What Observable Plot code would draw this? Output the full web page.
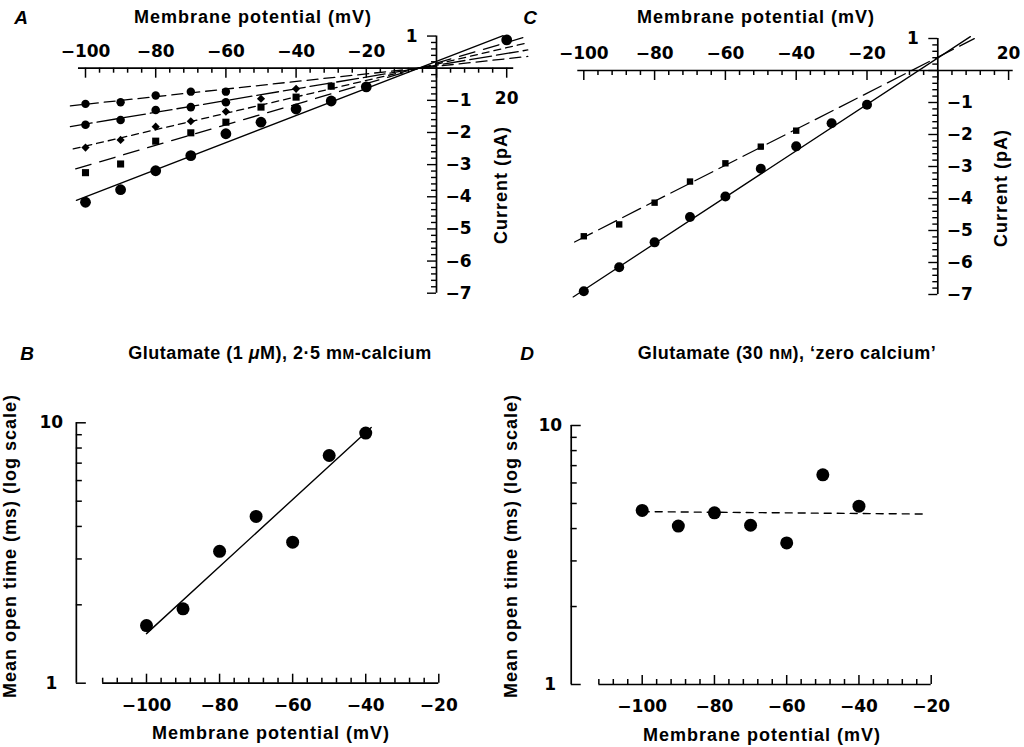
<!DOCTYPE html>
<html>
<head>
<meta charset="utf-8">
<script src="https://cdn.jsdelivr.net/npm/d3@7"></script>
<script src="https://cdn.jsdelivr.net/npm/@observablehq/plot@0.6"></script>
<style>
  html, body { margin: 0; padding: 0; background: #fff; }
  #fig { position: relative; width: 1024px; height: 747px; background: #fff; overflow: hidden;
         font-family: "Liberation Sans", Arial, Helvetica, sans-serif; color: #000; }
  .t { position: absolute; white-space: nowrap; font-weight: bold; font-size: 18px; letter-spacing: 1px;
       line-height: 1; transform: translate(-50%, -50%); }
  .r { transform: translate(-50%, -50%) rotate(-90deg); }
  .ti { letter-spacing: 0.5px; }
  .p { font-style: italic; font-size: 19px; letter-spacing: 0; }
  .sc { font-size: 0.78em; }
</style>
</head>
<body>
<div id="fig"></div>
<script>
// ================= DATA =================
// Panel A: current (pA) vs membrane potential (mV), five conditions
const aVoltage  = [-100, -90, -80, -70, -60, -50, -40, -30, -20, 20];
const aCurrent1 = [-1.11, -1.06, -0.85, -0.73, -0.73];
const aCurrent2 = [-1.76, -1.61, -1.30, -1.21, -1.06];
const aCurrent3 = [-2.47, -2.23, -1.82, -1.65, -1.35, -0.95, -0.64];
const aCurrent4 = [-3.25, -2.98, -2.27, -2.01, -1.68, -1.21, -0.90, -0.56];
const aCurrent5 = [-4.17, -3.78, -3.19, -2.72, -2.04, -1.68, -1.27, -1.02, -0.58, 0.88];
// fitted lines: slope (pA/mV), reversal potential (mV), drawn range (mV)
const aFitSlope = [0.0118, 0.0183, 0.0255, 0.032, 0.0421];
const aReversal = [-5, -5, -5, -5, -5];
const aFitFrom  = [-104.3, -104.3, -103.5, -102.8, -102.6];
const aFitTo    = [26, 26, 26, 26, 19];

// Panel C
const cVoltage        = [-100, -90, -80, -70, -60, -50, -40, -30, -20];
const cCurrentSquares = [-5.18, -4.81, -4.13, -3.47, -2.90, -2.38, -1.88];
const cCurrentCircles = [-6.90, -6.15, -5.37, -4.58, -3.94, -3.07, -2.37, -1.65, -1.07];
const cFitSlope = [0.0563, 0.0725];
const cReversal = [-7.4, -5.4];
const cFitFrom  = [-102.6, -103];
const cFitTo    = [10.3, 9.2];

// Panel B: mean open time (ms), log scale
const bVoltage     = [-100, -90, -80, -70, -60, -50, -40];
const bOpenTime    = [1.665, 1.93, 3.21, 4.37, 3.48, 7.49, 9.13];
const bFitVoltage  = [-100, -38.5];
const bFitOpenTime = [1.55, 9.6];

// Panel D
const dVoltage     = [-100, -90, -80, -70, -60, -50, -40];
const dOpenTime    = [4.70, 4.09, 4.60, 4.12, 3.52, 6.45, 4.88];
const dFitVoltage  = [-100, -21];
const dFitOpenTime = [4.65, 4.55];

// tick labels
const ivTopLabels   = [-100, -80, -60, -40, -20];
const currentLabels = [1, -1, -2, -3, -4, -5, -6, -7];
const logLabels     = [1, 10];
const logMinor      = [2, 3, 4, 5, 6, 7, 8, 9];
const bdLabels      = [-100, -80, -60, -40, -20];

// ================= HELPERS =================
const fig = document.getElementById("fig");
const TICKFONT = '"DejaVu Sans", "Liberation Sans", sans-serif';
const baseStyle = {fontFamily: TICKFONT, fontSize: "17px", fontWeight: "bold",
                   background: "transparent", overflow: "visible", color: "black", maxWidth: "none"};
const fmt = d => d < 0 ? "\u2212" + Math.abs(d) : String(d);
const pts = (xs, ys) => ys.map((y, i) => ({x: xs[i], y}));
const fitLine = (slope, rev, from, to) => [from, to].map(x => ({x, y: slope * (x - rev)}));

function mount(svg, left, top) {
  svg.style.position = "absolute";
  svg.style.left = left + "px";
  svg.style.top = top + "px";
  fig.appendChild(svg);
}
function label(html, x, y, cls) {
  const d = document.createElement("div");
  d.className = "t " + (cls || "");
  d.style.left = x + "px";
  d.style.top = y + "px";
  d.innerHTML = html;
  fig.appendChild(d);
}

// I-V panel builder (A and C)
function ivPanel(opts) {
  const {xRange, yRange, axisFrom, axisTo, width, height, label20Below, fits, series} = opts;
  const pxPerMV = (xRange[1] - xRange[0]) / 100;
  const pxPerPA = (yRange[1] - yRange[0]) / 7;
  const vTicks = d3.range(-100, 21, 4);
  const iTicks = d3.range(-35, 6);
  return Plot.plot({
    width, height, margin: 0,
    x: {domain: [-100, 0], range: xRange, axis: null},
    y: {domain: [0, -7], range: yRange, axis: null},
    style: baseStyle,
    marks: [
      Plot.ruleY([0], {x1: axisFrom, x2: axisTo, strokeWidth: 1.7}),
      Plot.ruleX(vTicks, {x: d => d, y1: 0, y2: d => -(d % 20 === 0 ? 10 : 5) / pxPerPA, strokeWidth: 1.5}),
      Plot.ruleX([0], {y1: 1, y2: -7, strokeWidth: 1.7}),
      Plot.ruleY(iTicks, {y: d => d / 5, x1: 0, x2: d => -(d % 5 === 0 ? 9 : 5) / pxPerMV, strokeWidth: 1.4}),
      Plot.text(ivTopLabels, {x: d => d, y: 0, dy: -17, text: fmt}),
      Plot.text([20], {x: d => d, y: 0, dy: label20Below ? 30 : -17, text: fmt}),
      Plot.text([1], {x: 0, y: d => d, dx: -19, textAnchor: "end", text: fmt}),
      Plot.text(currentLabels.filter(d => d < 0), {x: 0, y: d => d, dx: 9, textAnchor: "start", text: fmt}),
      ...fits.map(f => Plot.line(fitLine(f.slope, f.rev, f.from, f.to),
                 {x: "x", y: "y", stroke: "black", strokeWidth: 1.3, strokeDasharray: f.dash})),
      ...series.map(s => Plot.dot(pts(s.xs, s.ys),
                 {x: "x", y: "y", r: s.r, symbol: s.symbol, fill: "black", stroke: "none"}))
    ]
  });
}

// log panel builder (B and D)
function logPanel(opts) {
  const {xRange, yRange, yAxisAt, width, height, xs, ys, fitX, fitY, dash, labelDx} = opts;
  const pxPerMV = (xRange[1] - xRange[0]) / 80;
  const decade = yRange[0] - yRange[1];
  const up = px => Math.pow(10, px / decade);
  return Plot.plot({
    width, height, margin: 0,
    x: {domain: [-100, -20], range: xRange, axis: null},
    y: {type: "log", domain: [1, 10], range: yRange, axis: null},
    style: baseStyle,
    marks: [
      Plot.ruleX([yAxisAt], {x: d => d, y1: 1, y2: 10, strokeWidth: 1.7}),
      Plot.ruleY(logLabels.concat(logMinor), {y: d => d, x1: yAxisAt,
                 x2: d => yAxisAt + (d === 1 || d === 10 ? 10 : 6) / pxPerMV, strokeWidth: 1.5}),
      Plot.ruleY([1], {y: d => d, x1: -112, x2: -20, strokeWidth: 1.7}),
      Plot.ruleX(d3.range(-112, -19, 4), {x: d => d, y1: 1, y2: d => up(d % 20 === 0 ? 9 : 5), strokeWidth: 1.5}),
      Plot.text(bdLabels, {x: d => d, y: 1, dy: 22, text: fmt}),
      Plot.text(logLabels, {x: yAxisAt, y: d => d, dx: labelDx, text: d => String(d)}),
      Plot.line(pts(fitX, fitY), {x: "x", y: "y", stroke: "black", strokeWidth: 1.4, strokeDasharray: dash}),
      Plot.dot(pts(xs, ys), {x: "x", y: "y", r: 6.5, fill: "black", stroke: "none"})
    ]
  });
}

// ================= PANEL A =================
const aSeries = [aCurrent1, aCurrent2, aCurrent3, aCurrent4, aCurrent5];
const aDash = ["11,6", "22,5", "7,5", "16,9", undefined];
const aSym  = ["circle", "circle", "diamond2", "square", "circle"];
const aR    = [4.2, 4.3, 3.7, 4.0, 5.4];
mount(ivPanel({
  width: 520, height: 320,
  xRange: [85, 436], yRange: [67.7, 292.7],
  axisFrom: -102, axisTo: 22, label20Below: true,
  fits: aSeries.map((s, k) => ({slope: aFitSlope[k], rev: aReversal[k], from: aFitFrom[k], to: aFitTo[k], dash: aDash[k]})),
  series: aSeries.map((s, k) => ({xs: aVoltage, ys: s, r: aR[k], symbol: aSym[k]}))
}), 0, 0);

// ================= PANEL C =================
mount(ivPanel({
  width: 504, height: 320,
  xRange: [63.3, 417.3], yRange: [70, 294],
  axisFrom: -101.7, axisTo: 21.3, label20Below: false,
  fits: [
    {slope: cFitSlope[0], rev: cReversal[0], from: cFitFrom[0], to: cFitTo[0], dash: "20,7"},
    {slope: cFitSlope[1], rev: cReversal[1], from: cFitFrom[1], to: cFitTo[1], dash: undefined}
  ],
  series: [
    {xs: cVoltage, ys: cCurrentSquares, r: 3.6, symbol: "square"},
    {xs: cVoltage, ys: cCurrentCircles, r: 5, symbol: "circle"}
  ]
}), 520, 0);

// ================= PANEL B =================
mount(logPanel({
  width: 520, height: 427,
  xRange: [146, 438.3], yRange: [362.7, 102.3], yAxisAt: -119.2, labelDx: -25,
  xs: bVoltage, ys: bOpenTime, fitX: bFitVoltage, fitY: bFitOpenTime, dash: undefined
}), 0, 320);

// ================= PANEL D =================
mount(logPanel({
  width: 504, height: 427,
  xRange: [121.7, 410.7], yRange: [364, 105], yAxisAt: -119.65, labelDx: -21,
  xs: dVoltage, ys: dOpenTime, fitX: dFitVoltage, fitY: dFitOpenTime, dash: "7,6"
}), 520, 320);

// ================= TEXT =================
label("A", 21, 17, "p");
label("Membrane potential (mV)", 253, 17);
label("Current (pA)", 501, 185, "r");
label("C", 530, 17, "p");
label("Membrane potential (mV)", 756, 17);
label("Current (pA)", 1001, 188, "r");

label("B", 27, 353, "p");
label('Glutamate (1 <i>\u03bc</i>M), 2\u00b75 m<span class="sc">M</span>-calcium', 280, 353, "ti");
label("Mean open time (ms)  (log scale)", 10, 546, "r");
label("Membrane potential (mV)", 271, 733);

label("D", 527, 353, "p");
label('Glutamate (30 n<span class="sc">M</span>), \u2018zero calcium\u2019', 787, 353, "ti");
label("Mean open time (ms)  (log scale)", 511, 546, "r");
label("Membrane potential (mV)", 762, 735);
</script>
</body>
</html>
